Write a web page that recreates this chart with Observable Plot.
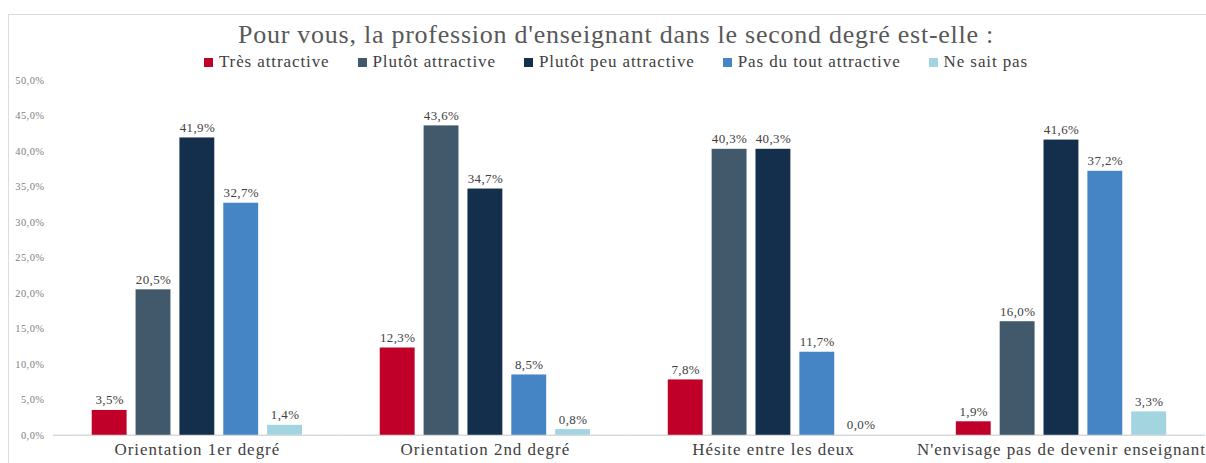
<!DOCTYPE html>
<html>
<head>
<meta charset="utf-8">
<script src="https://cdn.jsdelivr.net/npm/d3@7"></script>
<script src="https://cdn.jsdelivr.net/npm/@observablehq/plot@0.6"></script>
<style>
  html, body { margin: 0; padding: 0; background: #fff; overflow: hidden; width: 1206px; height: 463px; }
  #frame { position: absolute; left: 8px; top: 14px; width: 1300px; height: 600px; border: 1px solid #dcdcdc; box-sizing: border-box; }
  #title { position: absolute; left: 0; top: 20px; width: 1232px; text-align: center; font-family: "Liberation Serif", serif; font-size: 26px; letter-spacing: 0.75px; color: #595959; white-space: nowrap; }
  #legend { position: absolute; left: 0; top: 52px; width: 1232px; text-align: center; font-family: "Liberation Serif", serif; font-size: 17px; letter-spacing: 0.9px; color: #404040; white-space: nowrap; }
  #legend span.item { display: inline-block; margin: 0 14px; }
  #legend span.sw { display: inline-block; width: 9px; height: 9px; margin-right: 6px; vertical-align: 0px; }
  #chart { position: absolute; left: 0; top: 70px; }
  #chart g[aria-label="fx-axis tick label"] text { letter-spacing: 1px; }
  #chart g[aria-label="y-axis tick label"] text { letter-spacing: 0.4px; }
  #chart g[aria-label="text"] text { letter-spacing: 0.4px; }
</style>
</head>
<body>
<div id="frame"></div>
<div id="title">Pour vous, la profession d'enseignant dans le second degré est-elle :</div>
<div id="legend"></div>
<div id="chart"></div>
<script>
const groups = ["Orientation 1er degré", "Orientation 2nd degré", "Hésite entre les deux", "N'envisage pas de devenir enseignant"];
const series = ["Très attractive", "Plutôt attractive", "Plutôt peu attractive", "Pas du tout attractive", "Ne sait pas"];
const colors = ["#C00028", "#41596A", "#132F4C", "#4585C5", "#A2D5DF"];
const tresAttractive = [3.5, 12.3, 7.8, 1.9];
const plutotAttractive = [20.5, 43.6, 40.3, 16.0];
const plutotPeuAttractive = [41.9, 34.7, 40.3, 41.6];
const pasDuToutAttractive = [32.7, 8.5, 11.7, 37.2];
const neSaitPas = [1.4, 0.8, 0.0, 3.3];
const yTicks = [0, 5, 10, 15, 20, 25, 30, 35, 40, 45, 50];

const seriesValues = [tresAttractive, plutotAttractive, plutotPeuAttractive, pasDuToutAttractive, neSaitPas];
const data = [];
groups.forEach((g, gi) => series.forEach((s, si) => data.push({group: g, serie: s, value: seriesValues[si][gi]})));
const fmt = v => v.toFixed(1).replace(".", ",") + "%";

// legend
const legend = document.getElementById("legend");
series.forEach((s, i) => {
  const it = document.createElement("span");
  it.className = "item";
  it.innerHTML = `<span class="sw" style="background:${colors[i]}"></span>${s}`;
  legend.appendChild(it);
});

const chart = Plot.plot({
  width: 1210,
  height: 393,
  marginLeft: 52,
  marginRight: 0,
  marginTop: 10,
  marginBottom: 27,
  style: {fontFamily: "Liberation Serif, serif", background: "transparent"},
  fx: {domain: groups, paddingInner: 0, paddingOuter: 0, label: null},
  x: {domain: series, paddingInner: 0.21, paddingOuter: 0.86, axis: null},
  y: {domain: [0, 50], label: null},
  color: {domain: series, range: colors},
  marks: [
    Plot.axisY({ticks: yTicks, tickFormat: fmt, tickSize: 0, tickPadding: 9, fontSize: 10.5, fill: "#808080", label: null}),
    Plot.axisFx({anchor: "bottom", tickSize: 0, tickPadding: 8, fontSize: 17, fill: "#404040", label: null}),
    Plot.ruleY([0], {stroke: "#d9d9d9", strokeWidth: 1.5}),
    Plot.barY(data, {fx: "group", x: "serie", y: "value", fill: "serie"}),
    Plot.text(data, {fx: "group", x: "serie", y: "value", text: d => fmt(d.value), dy: -6, lineAnchor: "bottom", fontSize: 13, fill: "#404040"})
  ]
});
document.getElementById("chart").appendChild(chart);
</script>
</body>
</html>
